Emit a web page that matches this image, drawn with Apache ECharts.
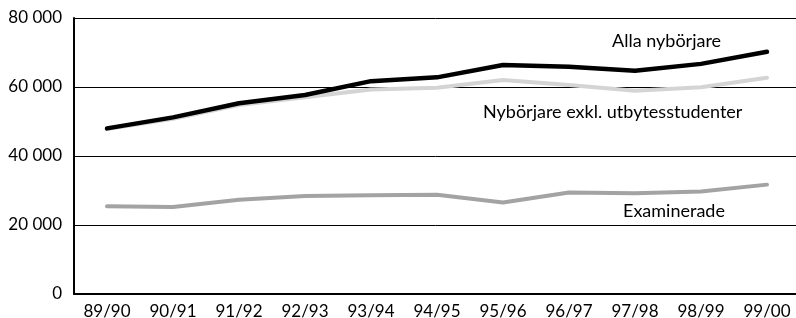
<!DOCTYPE html>
<html><head><meta charset="utf-8">
<script src="https://cdn.jsdelivr.net/npm/echarts@6/dist/echarts.min.js"></script>
<style>html,body{margin:0;padding:0;background:#fff}#c{width:796px;height:318px}</style>
</head><body><div id="c"></div>
<script>
const categories = ['89/90','90/91','91/92','92/93','93/94','94/95','95/96','96/97','97/98','98/99','99/00'];
const allaNyborjare = [48000,51200,55300,57700,61700,62800,66400,65900,64700,66700,70200];
const exklUtbyte = [47800,50800,54800,57000,59300,59800,62000,60600,58900,59900,62700];
const examinerade = [25400,25200,27300,28400,28600,28800,26500,29400,29200,29700,31700];
const seriesNames = ['Alla nybörjare','Nybörjare exkl. utbytesstudenter','Examinerade'];
const FONT = 'Lato';
const chart = echarts.init(document.getElementById('c'));
chart.setOption({
  animation:false,
  backgroundColor:'#fff',
  grid:{left:74, top:18, bottom:24, right:-4, containLabel:false, outerBoundsMode:'none'},
  xAxis:{type:'category', data:categories, boundaryGap:true,
    axisLine:{lineStyle:{color:'#000', width:2}},
    axisTick:{inside:true, length:6, lineStyle:{color:'#000', width:2}},
    axisLabel:{color:'#000', fontFamily:FONT, fontSize:17, margin:9}},
  yAxis:{type:'value', min:0, max:80000, interval:20000,
    axisLine:{show:true, lineStyle:{color:'#000', width:2}},
    axisTick:{show:false},
    splitLine:{lineStyle:{color:'#000', width:1}},
    axisLabel:{color:'#000', fontFamily:FONT, fontSize:17, margin:12,
      formatter:v=>v===0?'0':String(v).replace(/\B(?=(\d{3})+(?!\d))/g,' ')}},
  series:[
    {name:seriesNames[2], type:'line', data:examinerade, symbol:'none', lineStyle:{color:'#a3a3a3', width:4, cap:'round'}, z:2},
    {name:seriesNames[1], type:'line', data:exklUtbyte, symbol:'none', lineStyle:{color:'#d4d4d4', width:4, cap:'round'}, z:3},
    {name:seriesNames[0], type:'line', data:allaNyborjare, symbol:'none', lineStyle:{color:'#000', width:4.5, cap:'round'}, z:4}
  ],
  graphic:[
    {type:'text', left:612, top:32, style:{text:seriesNames[0], fill:'#000', font:'18px '+FONT}},
    {type:'text', left:483, top:103, style:{text:seriesNames[1], fill:'#000', font:'18px '+FONT}},
    {type:'text', left:623, top:202, style:{text:seriesNames[2], fill:'#000', font:'18px '+FONT}}
  ]
});
</script></body></html>
